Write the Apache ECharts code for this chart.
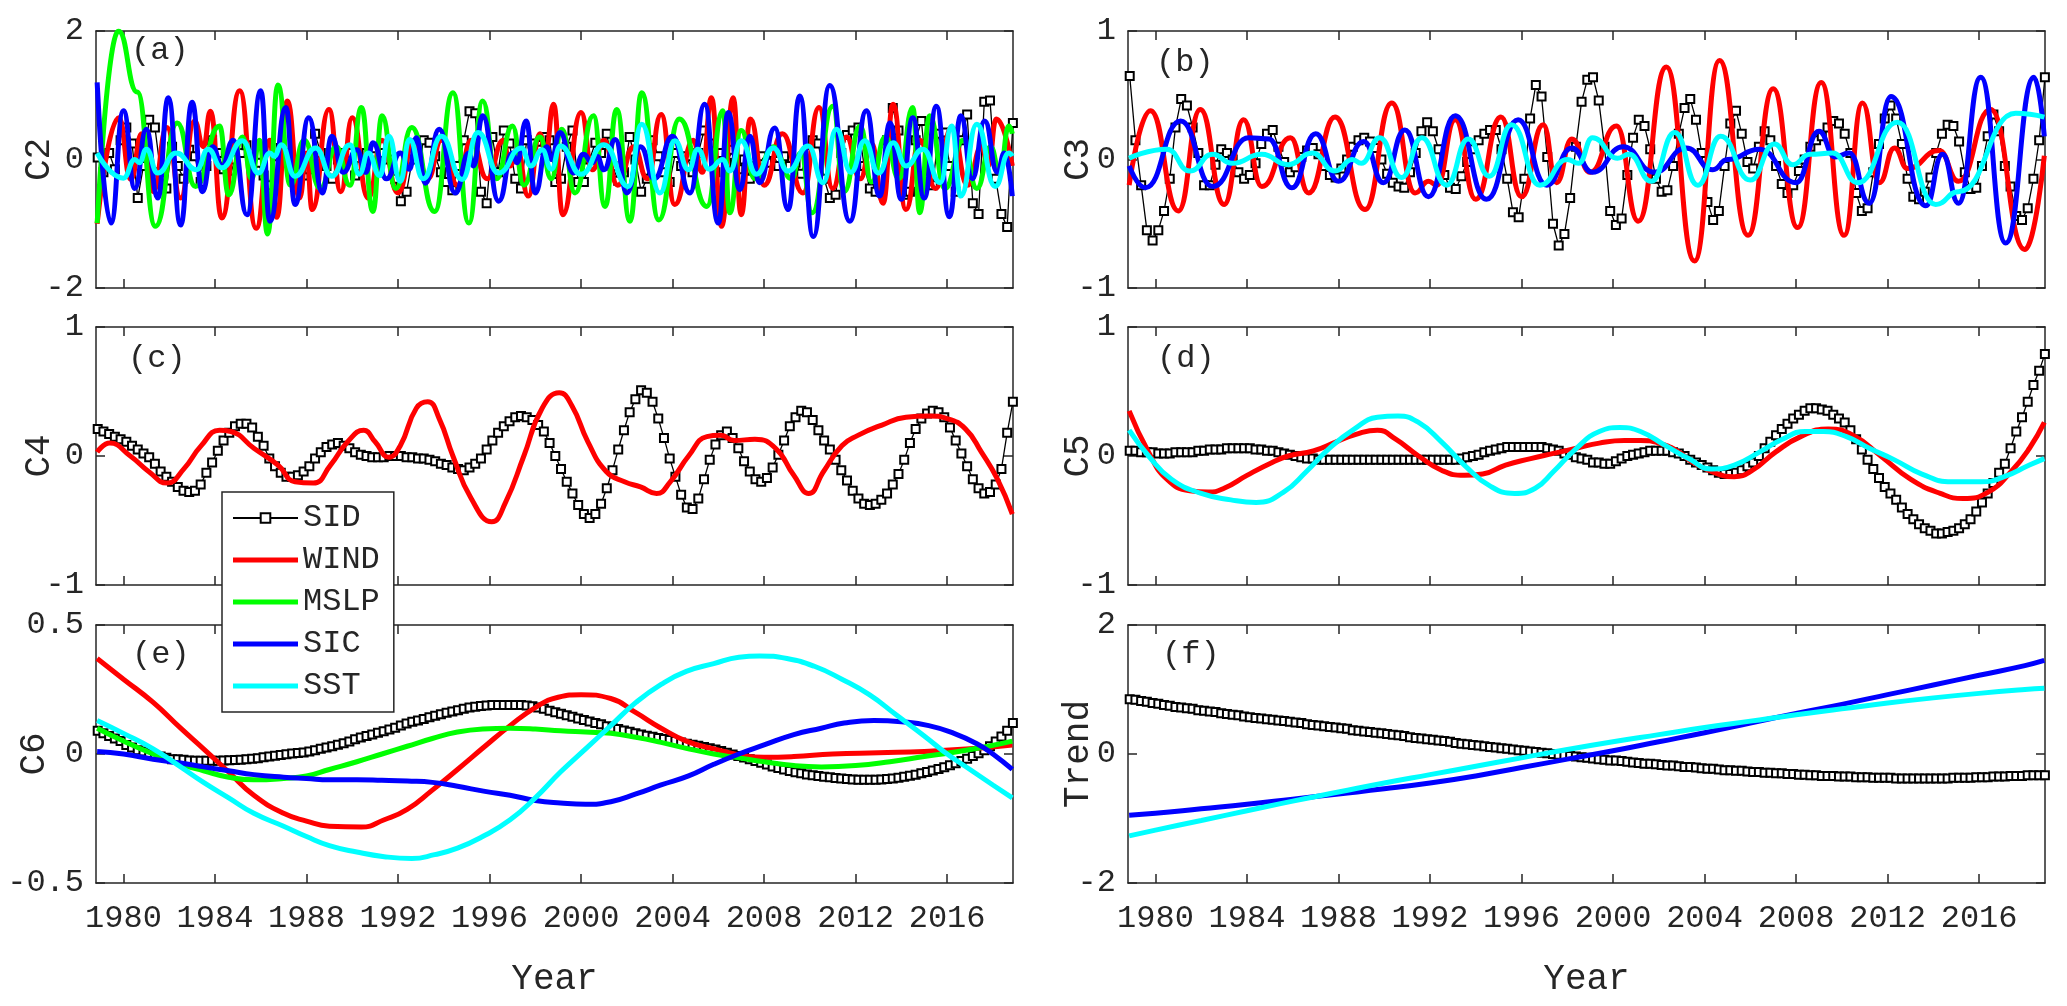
<!DOCTYPE html>
<html><head><meta charset="utf-8">
<script src="https://cdn.jsdelivr.net/npm/echarts@6/dist/echarts.min.js"></script>
<style>html,body{margin:0;padding:0;background:#fff}#c{width:2067px;height:1006px}</style>
</head><body><div id="c"></div>
<script>
// ---------- axis / layout data ----------
const YEAR_TICKS = [1980,1984,1988,1992,1996,2000,2004,2008,2012,2016];
const SID_START = 1978.875, SID_STEP = 0.25;   // SID sampling (quarterly markers)
const PANEL_LABELS = ['(a)','(b)','(c)','(d)','(e)','(f)'];
const Y_NAMES = ['C2','C3','C4','C5','C6','Trend'];
const Y_RANGES = [[-2,2,2],[-1,1,1],[-1,1,1],[-1,1,1],[-0.5,0.5,0.5],[-2,2,2]];
const LEGEND_NAMES = ['SID','WIND','MSLP','SIC','SST'];

// ---------- (a) C2 ----------
const SID_C2 = [
 0.03,-0.2,0.1,-0.15, 0.3,0.5,0.25,-0.6, -0.1,0.62,0.5,-0.2, -0.45,0.2,-0.1,-0.3,
 0.15,0.05,-0.35,-0.1, 0.3,0.1,-0.15,-0.3, 0.0,0.1,0.22,-0.15, -0.05,-0.25,-0.4,0.05,
 0.18,0.1,-0.05,-0.2, -0.25,-0.15,0.4,0.1, -0.1,-0.3,0.0,0.1, 0.1,-0.25,-0.1,0.1,
 0.05,-0.2,0.1,0.0, -0.3,-0.65,-0.5,0.0, 0.2,0.3,0.26,0.05, -0.2,-0.35,-0.48,-0.1,
 0.3,0.75,0.72,-0.5, -0.68,0.35,-0.2,0.45, 0.25,-0.3,-0.45,0.3, 0.25,0.15,0.35,0.3,
 -0.35,-0.3,0.2,0.45, -0.35,-0.35,0.0,0.26, 0.1,0.4,-0.1,-0.33, -0.2,0.35,0.0,-0.5,
 -0.3,0.3,0.05,-0.2, -0.35,0.1,-0.1,0.05, -0.2,0.1,0.45,0.25, -0.2,0.1,-0.05,0.15,
 -0.15,0.0,-0.3,-0.1, 0.05,-0.05,0.1,-0.1, 0.05,-0.1,-0.05,-0.22, 0.1,0.3,0.25,-0.3,
 -0.6,-0.55,0.1,0.38, 0.45,0.5,-0.1,-0.45, -0.5,-0.5,0.3,0.8, 0.45,-0.55,-0.5,0.3,
 0.6,-0.3,-0.4,0.4, 0.42,-0.1,-0.5,0.3, 0.7,-0.68,-0.85,0.9, 0.92,-0.3,-0.85,-1.05,
 0.57];
const WIND_C2 = [[1978.85,-1.0],[1979.8,0.65],[1980.32,-0.31],[1980.8,0.4],[1981.3,-0.5],[1981.9,0.5],[1982.5,-0.6],[1983.1,0.6],[1983.5,0.2],[1983.8,0.75],[1984.3,-0.91],[1985.08,1.07],[1985.8,-1.07],[1986.4,0.3],[1986.7,-0.9],[1987.16,0.91],[1987.7,-0.6],[1988.0,0.1],[1988.25,-0.78],[1988.98,0.78],[1989.5,-0.5],[1990.0,0.65],[1990.7,-0.6],[1991.3,0.3],[1992.0,-0.52],[1992.7,0.3],[1993.3,-0.3],[1993.9,0.3],[1994.6,-0.4],[1995.2,0.3],[1995.9,-0.3],[1996.6,0.3],[1996.9,-0.1],[1997.2,0.15],[1997.7,-0.57],[1998.2,0.4],[1998.45,0.1],[1998.8,0.86],[1999.2,-0.86],[2000.0,0.73],[2000.5,-0.16],[2001.0,0.3],[2001.6,-0.4],[2002.3,0.2],[2002.9,-0.3],[2003.5,0.7],[2004.1,-0.7],[2004.9,0.3],[2005.3,-0.2],[2005.7,0.96],[2006.14,-1.04],[2006.65,0.96],[2007.0,-0.86],[2007.4,0.63],[2008.0,-0.4],[2008.8,0.4],[2009.7,-0.52],[2010.4,0.81],[2011.0,-0.45],[2011.6,0.35],[2012.2,-0.3],[2012.7,0.25],[2013.2,-0.68],[2013.64,0.86],[2014.2,-0.78],[2014.8,0.3],[2015.5,-0.45],[2016.2,0.5],[2016.9,-0.4],[2017.5,0.2],[2017.8,-0.1],[2018.15,0.63],[2018.85,-0.1]];
const MSLP_C2 = [[1978.85,-0.99],[1979.78,2.0],[1980.6,1.05],[1981.4,-1.04],[1982.35,0.57],[1983.15,-0.42],[1984.2,0.52],[1984.6,-0.55],[1985.2,0.35],[1985.6,-0.3],[1985.95,0.3],[1986.3,-1.16],[1986.75,1.16],[1987.3,-0.4],[1987.9,0.3],[1988.6,-0.45],[1989.3,0.2],[1989.9,-0.4],[1990.4,0.81],[1990.9,-0.81],[1991.3,0.68],[1991.9,-0.45],[1992.6,0.5],[1993.6,-0.81],[1994.4,1.04],[1995.1,-0.99],[1995.7,0.91],[1996.3,-0.3],[1997.0,0.52],[1997.5,-0.4],[1998.2,0.35],[1998.7,-0.3],[1999.16,0.47],[1999.74,-0.52],[2000.54,0.68],[2001.05,-0.73],[2001.56,0.78],[2002.14,-0.96],[2002.65,1.04],[2003.4,-0.94],[2004.3,0.63],[2005.5,-0.73],[2006.2,0.76],[2006.5,-0.83],[2007.0,0.45],[2007.6,-0.3],[2008.4,0.2],[2009.2,-0.3],[2009.6,0.1],[2010.1,-0.83],[2011.0,0.83],[2011.5,-0.5],[2012.2,0.52],[2012.7,-0.35],[2013.3,0.35],[2013.9,-0.3],[2014.5,0.81],[2014.8,-0.83],[2015.24,0.68],[2015.9,-0.45],[2016.7,0.3],[2017.3,-0.45],[2017.9,0.2],[2018.3,-0.2],[2018.7,0.52],[2018.85,0.4]];
const SIC_C2 = [[1978.85,1.2],[1979.45,-0.99],[1980.0,0.76],[1980.5,-0.45],[1981.0,0.47],[1981.5,-0.6],[1981.96,0.96],[1982.5,-1.02],[1983.0,0.89],[1983.45,-0.5],[1983.9,0.2],[1984.3,-0.1],[1984.8,0.3],[1985.4,-0.86],[1986.0,1.07],[1986.4,-0.96],[1987.1,0.81],[1987.5,-0.7],[1988.1,0.65],[1988.7,-0.52],[1989.1,0.36],[1989.6,-0.2],[1990.2,0.15],[1990.6,-0.2],[1990.9,0.26],[1991.5,-0.3],[1992.1,0.1],[1992.5,-0.15],[1992.8,0.34],[1993.2,-0.37],[1993.8,0.47],[1994.5,-0.52],[1995.1,0.1],[1995.3,-0.1],[1995.7,0.68],[1996.4,-0.65],[1997.0,0.1],[1997.2,-0.05],[1997.6,0.6],[1998.0,-0.52],[1998.5,0.2],[1998.7,0.0],[1999.08,0.42],[1999.67,-0.21],[2000.1,0.08],[2000.5,-0.05],[2000.7,0.05],[2001.0,-0.16],[2001.5,0.31],[2002.0,-0.52],[2002.6,0.2],[2003.2,-0.3],[2004.0,0.36],[2004.76,-0.52],[2005.4,0.86],[2006.0,-0.99],[2006.43,0.73],[2006.94,-0.47],[2007.38,0.36],[2007.8,-0.36],[2008.47,0.49],[2009.05,-0.78],[2009.56,0.99],[2010.15,-1.2],[2010.87,1.15],[2011.75,-0.96],[2012.47,0.76],[2013.05,-0.57],[2013.5,0.57],[2014.0,-0.62],[2014.5,0.65],[2015.0,-0.6],[2015.53,0.83],[2016.1,-0.89],[2016.6,0.68],[2017.1,-0.3],[2017.64,0.6],[2018.2,-0.2],[2018.5,0.1],[2018.85,-0.57]];
const SST_C2 = [[1978.85,0.1],[1980.0,-0.29],[1980.5,0.0],[1980.7,-0.05],[1981.0,0.16],[1981.5,-0.21],[1982.3,0.1],[1983.2,-0.16],[1983.7,0.16],[1984.3,-0.13],[1985.2,0.29],[1985.9,-0.21],[1986.4,0.1],[1986.6,0.05],[1986.9,0.23],[1987.5,-0.26],[1988.4,0.18],[1989.1,-0.26],[1989.9,0.23],[1990.3,-0.23],[1990.7,0.1],[1991.2,-0.25],[1991.6,0.36],[1992.1,-0.34],[1992.5,0.31],[1993.1,-0.3],[1993.9,0.36],[1994.8,-0.31],[1995.5,0.42],[1996.4,-0.21],[1997.4,0.18],[1997.8,-0.1],[1998.3,0.15],[1998.7,-0.15],[1999.1,0.21],[2000.0,-0.23],[2001.0,0.23],[2002.07,-0.42],[2002.65,0.55],[2003.45,-0.52],[2004.1,0.29],[2004.7,-0.16],[2005.1,0.16],[2005.6,-0.15],[2006.2,0.0],[2006.5,-0.18],[2007.0,0.29],[2007.67,-0.23],[2008.4,0.18],[2009.05,-0.18],[2009.93,0.21],[2010.58,-0.36],[2011.16,0.47],[2011.8,-0.2],[2012.4,0.29],[2013.0,-0.21],[2013.64,0.26],[2014.2,-0.1],[2014.95,0.16],[2015.7,-0.36],[2016.2,0.52],[2016.6,-0.57],[2017.3,0.55],[2018.1,-0.42],[2018.7,0.1],[2018.85,0.05]];

// ---------- (b) C3 ----------
const SID_C3 = [
 0.65,0.15,-0.2,-0.55, -0.63,-0.55,-0.4,-0.15, 0.25,0.47,0.42,0.25, 0.05,-0.2,-0.2,-0.04,
 0.08,0.05,0.0,-0.1, -0.15,-0.12,-0.03,0.12, 0.2,0.23,0.1,-0.02, -0.1,-0.06,0.02,0.07,
 0.09,0.04,-0.05,-0.12, -0.14,-0.07,0.0,0.1, 0.15,0.17,0.14,0.09, 0.0,-0.11,-0.18,-0.21,
 -0.22,-0.1,0.05,0.22, 0.29,0.22,0.08,-0.12, -0.22,-0.23,-0.13,-0.02, 0.08,0.15,0.2,0.23,
 0.23,0.08,-0.15,-0.41, -0.45,-0.15,0.32,0.58, 0.49,0.02,-0.5,-0.67, -0.58,-0.3,0.1,0.45,
 0.62,0.64,0.46,0.1, -0.4,-0.51,-0.46,-0.12, 0.17,0.31,0.26,0.08, -0.15,-0.25,-0.24,-0.05,
 0.2,0.4,0.47,0.31, 0.05,-0.33,-0.47,-0.4, -0.05,0.28,0.38,0.2, -0.02,-0.07,0.1,0.22,
 0.15,-0.05,-0.19,-0.26, -0.2,-0.09,0.0,0.1, 0.15,0.18,0.25,0.3, 0.28,0.2,0.05,-0.26,
 -0.4,-0.38,-0.1,0.12, 0.32,0.42,0.32,0.12, -0.15,-0.29,-0.31,-0.25, -0.14,0.05,0.2,0.27,
 0.26,0.14,-0.1,-0.23, -0.22,-0.05,0.18,0.35, 0.22,-0.05,-0.21,-0.44, -0.47,-0.38,-0.15,0.15,
 0.64];
const WIND_C3 = [[1978.85,-0.2],[1979.78,0.38],[1981.0,-0.4],[1981.96,0.39],[1983.0,-0.35],[1983.85,0.31],[1984.65,-0.21],[1985.9,0.17],[1986.7,-0.26],[1987.85,0.33],[1989.16,-0.39],[1990.33,0.44],[1991.35,-0.26],[1991.93,-0.17],[1992.3,-0.2],[1993.1,0.31],[1994.0,-0.31],[1995.1,0.33],[1996.0,-0.29],[1996.95,0.27],[1997.53,-0.18],[1998.2,0.16],[1999.0,-0.1],[2000.15,0.26],[2001.1,-0.48],[2002.33,0.72],[2003.56,-0.79],[2004.65,0.77],[2005.9,-0.59],[2007.0,0.55],[2008.07,-0.53],[2009.1,0.6],[2010.1,-0.59],[2010.9,0.44],[2011.64,-0.18],[2012.3,0.09],[2012.87,-0.07],[2014.25,0.07],[2015.1,-0.17],[2016.5,0.39],[2018.0,-0.7],[2018.85,0.03]];
const SIC_C3 = [[1978.85,-0.05],[1979.56,-0.22],[1981.1,0.3],[1982.5,-0.21],[1984.07,0.17],[1984.95,0.16],[1985.96,-0.22],[1987.0,0.2],[1988.0,-0.17],[1989.1,0.14],[1989.96,-0.18],[1990.9,0.23],[1991.93,-0.29],[1993.1,0.34],[1994.47,-0.31],[1995.85,0.31],[1997.1,-0.2],[1998.2,0.09],[1999.1,-0.1],[2000.44,0.1],[2001.8,-0.1],[2003.2,0.09],[2004.36,-0.08],[2005.0,0.0],[2006.4,0.08],[2008.0,-0.18],[2009.0,0.22],[2009.7,0.02],[2010.33,0.05],[2011.2,-0.34],[2012.15,0.49],[2013.67,-0.36],[2014.4,0.04],[2015.1,-0.34],[2016.07,0.64],[2017.16,-0.65],[2018.4,0.64],[2018.85,0.18]];
const SST_C3 = [[1978.85,0.01],[1980.5,0.08],[1981.5,-0.09],[1982.5,0.04],[1983.35,-0.03],[1984.65,0.04],[1985.8,-0.04],[1986.85,0.05],[1987.85,-0.09],[1988.6,0.0],[1989.0,-0.03],[1989.8,0.17],[1990.76,-0.14],[1991.64,0.17],[1992.73,-0.2],[1993.67,0.16],[1994.6,-0.13],[1995.56,0.27],[1996.8,-0.2],[1998.0,0.0],[1998.5,-0.03],[1999.1,0.17],[2000.2,0.01],[2000.7,0.04],[2001.67,-0.17],[2002.7,0.21],[2003.7,-0.2],[2004.7,0.18],[2006.0,-0.16],[2007.05,0.12],[2007.85,-0.04],[2008.6,0.04],[2009.6,0.05],[2010.7,-0.18],[2012.43,0.29],[2014.1,-0.35],[2015.1,-0.25],[2017.6,0.36],[2018.85,0.33]];

// ---------- (c) C4 ----------
const SID_C4 = [
 0.21,0.19,0.17,0.15, 0.13,0.11,0.08,0.05, 0.02,-0.01,-0.06,-0.12, -0.16,-0.2,-0.24,-0.27,
 -0.28,-0.27,-0.22,-0.13, -0.05,0.04,0.12,0.18, 0.23,0.25,0.25,0.22, 0.15,0.08,-0.02,-0.08,
 -0.13,-0.16,-0.16,-0.15, -0.12,-0.08,-0.02,0.03, 0.07,0.09,0.1,0.08, 0.06,0.03,0.01,0.0,
 -0.01,-0.01,-0.01,0.0, 0.0,0.0,-0.01,-0.01, -0.02,-0.02,-0.03,-0.04, -0.06,-0.07,-0.09,-0.1,
 -0.11,-0.09,-0.06,-0.02, 0.05,0.12,0.18,0.23, 0.27,0.3,0.31,0.3, 0.28,0.24,0.19,0.1,
 0.0,-0.1,-0.2,-0.29, -0.38,-0.45,-0.48,-0.45, -0.37,-0.25,-0.11,0.05, 0.2,0.34,0.44,0.51,
 0.49,0.42,0.29,0.14, -0.02,-0.16,-0.3,-0.4, -0.41,-0.33,-0.18,-0.03, 0.09,0.16,0.19,0.14,
 0.06,-0.04,-0.12,-0.18, -0.2,-0.17,-0.09,0.01, 0.12,0.23,0.3,0.35, 0.34,0.28,0.2,0.12,
 0.05,-0.03,-0.11,-0.19, -0.27,-0.33,-0.37,-0.38, -0.37,-0.34,-0.29,-0.22, -0.14,-0.03,0.1,0.21,
 0.29,0.33,0.35,0.34, 0.3,0.22,0.12,0.02, -0.08,-0.18,-0.25,-0.29, -0.28,-0.22,-0.1,0.18,
 0.42];
const WIND_C4 = [[1978.85,0.03],[1979.4,0.1],[1980.3,0.0],[1981.1,-0.12],[1981.9,-0.21],[1982.64,-0.1],[1983.4,0.08],[1984.2,0.2],[1984.7,0.19],[1985.7,0.06],[1986.75,-0.07],[1987.5,-0.2],[1988.3,-0.21],[1989.05,-0.07],[1989.8,0.11],[1990.5,0.2],[1991.0,0.11],[1991.6,-0.01],[1992.1,0.08],[1992.8,0.37],[1993.3,0.42],[1993.8,0.29],[1994.4,0.0],[1995.2,-0.33],[1996.1,-0.51],[1996.7,-0.36],[1997.5,0.0],[1998.3,0.37],[1999.05,0.49],[1999.6,0.39],[2000.3,0.11],[2001.1,-0.12],[2001.9,-0.2],[2002.6,-0.24],[2003.3,-0.29],[2003.9,-0.2],[2004.7,0.0],[2005.5,0.15],[2006.1,0.16],[2006.7,0.12],[2007.6,0.13],[2008.5,0.06],[2009.3,-0.15],[2009.95,-0.29],[2010.6,-0.12],[2011.4,0.08],[2012.1,0.16],[2013.15,0.24],[2014.2,0.3],[2015.2,0.31],[2016.0,0.29],[2016.8,0.21],[2017.5,0.03],[2018.2,-0.18],[2018.85,-0.45]];

// ---------- (d) C5 ----------
const SID_C5 = [
 0.04,0.04,0.03,0.03, 0.03,0.02,0.02,0.02, 0.03,0.03,0.03,0.03, 0.04,0.04,0.05,0.05,
 0.05,0.06,0.06,0.06, 0.06,0.06,0.05,0.05, 0.04,0.04,0.03,0.02, 0.01,0.0,-0.01,-0.02,
 -0.02,-0.03,-0.03,-0.03, -0.03,-0.03,-0.03,-0.03, -0.03,-0.03,-0.03,-0.03, -0.03,-0.03,-0.03,-0.03,
 -0.03,-0.03,-0.03,-0.03, -0.03,-0.03,-0.03,-0.03, -0.03,-0.03,-0.02,-0.01, 0.0,0.01,0.03,0.04,
 0.05,0.06,0.07,0.07, 0.07,0.07,0.07,0.07, 0.07,0.06,0.05,0.04, 0.02,0.01,-0.01,-0.02,
 -0.03,-0.05,-0.05,-0.06, -0.06,-0.04,-0.02,0.0, 0.01,0.02,0.03,0.04, 0.04,0.04,0.04,0.03,
 0.02,0.0,-0.03,-0.05, -0.07,-0.09,-0.11,-0.13, -0.14,-0.14,-0.13,-0.11, -0.08,-0.05,0.0,0.06,
 0.11,0.16,0.21,0.25, 0.29,0.32,0.35,0.37, 0.37,0.36,0.35,0.32, 0.29,0.26,0.2,0.13,
 0.05,-0.03,-0.1,-0.17, -0.24,-0.29,-0.34,-0.4, -0.45,-0.49,-0.53,-0.56, -0.58,-0.6,-0.6,-0.59,
 -0.58,-0.56,-0.53,-0.49, -0.43,-0.36,-0.29,-0.21, -0.13,-0.06,0.06,0.19, 0.3,0.42,0.55,0.66,
 0.79];
const WIND_C5 = [[1978.85,0.35],[1979.7,0.03],[1980.5,-0.18],[1981.5,-0.27],[1982.3,-0.28],[1983.0,-0.25],[1984.0,-0.15],[1985.1,-0.05],[1985.8,0.0],[1986.9,0.04],[1987.9,0.11],[1988.8,0.17],[1989.7,0.2],[1990.5,0.13],[1991.5,0.0],[1992.5,-0.11],[1993.5,-0.15],[1994.3,-0.14],[1995.3,-0.07],[1996.4,-0.02],[1997.4,0.02],[1998.4,0.06],[1999.4,0.1],[2000.5,0.12],[2001.2,0.12],[2002.0,0.1],[2002.8,0.04],[2003.5,-0.05],[2004.6,-0.14],[2005.3,-0.16],[2006.1,-0.11],[2007.1,0.03],[2008.2,0.15],[2009.4,0.21],[2010.5,0.16],[2011.7,0.0],[2013.0,-0.18],[2014.3,-0.29],[2015.3,-0.33],[2016.4,-0.28],[2017.4,-0.12],[2018.2,0.06],[2018.85,0.26]];
const SST_C5 = [[1978.85,0.2],[1979.7,0.0],[1980.7,-0.18],[1982.0,-0.29],[1983.3,-0.34],[1984.4,-0.36],[1985.6,-0.28],[1986.6,-0.12],[1987.6,0.06],[1988.7,0.21],[1989.7,0.3],[1990.6,0.31],[1991.5,0.26],[1992.5,0.11],[1993.5,-0.07],[1994.6,-0.23],[1995.7,-0.29],[1996.6,-0.25],[1997.4,-0.12],[1998.4,0.06],[1999.4,0.19],[2000.3,0.22],[2001.2,0.19],[2002.3,0.08],[2003.3,-0.02],[2004.3,-0.1],[2005.3,-0.07],[2006.4,0.03],[2007.4,0.13],[2008.4,0.19],[2009.2,0.19],[2010.2,0.15],[2011.2,0.06],[2012.3,-0.03],[2013.5,-0.14],[2014.8,-0.2],[2016.1,-0.2],[2017.1,-0.16],[2018.2,-0.07],[2018.85,-0.02]];

// ---------- (e) C6 ----------
const SID_C6 = [
 0.09,0.08,0.07,0.06, 0.05,0.035,0.025,0.015, 0.01,0.0,-0.005,-0.01, -0.015,-0.02,-0.02,-0.022,
 -0.025,-0.026,-0.026,-0.026, -0.026,-0.026,-0.025,-0.024, -0.023,-0.022,-0.02,-0.018, -0.016,-0.013,-0.01,-0.007,
 -0.004,-0.001,0.002,0.004, 0.006,0.01,0.015,0.02, 0.025,0.03,0.036,0.042, 0.048,0.057,0.064,0.07,
 0.076,0.082,0.088,0.095, 0.102,0.11,0.118,0.125, 0.13,0.136,0.142,0.148, 0.154,0.16,0.165,0.17,
 0.175,0.18,0.183,0.186, 0.188,0.19,0.19,0.19, 0.19,0.19,0.19,0.188, 0.185,0.18,0.175,0.168,
 0.162,0.156,0.15,0.144, 0.138,0.132,0.126,0.12, 0.115,0.108,0.102,0.097, 0.091,0.086,0.08,0.076,
 0.071,0.067,0.062,0.058, 0.054,0.05,0.045,0.04, 0.036,0.032,0.027,0.022, 0.017,0.012,0.005,-0.002,
 -0.008,-0.014,-0.02,-0.027, -0.034,-0.041,-0.048,-0.054, -0.06,-0.066,-0.071,-0.075, -0.079,-0.082,-0.085,-0.088,
 -0.09,-0.093,-0.095,-0.097, -0.099,-0.1,-0.1,-0.1, -0.1,-0.099,-0.097,-0.095, -0.092,-0.088,-0.084,-0.08,
 -0.075,-0.07,-0.064,-0.058, -0.051,-0.044,-0.036,-0.027, -0.018,-0.008,0.003,0.015, 0.03,0.048,0.068,0.09,
 0.12];
const WIND_C6 = [[1978.85,0.37],[1980.0,0.29],[1981.3,0.2],[1982.5,0.1],[1983.5,0.02],[1984.6,-0.07],[1985.7,-0.16],[1987.0,-0.23],[1988.0,-0.26],[1989.0,-0.28],[1990.4,-0.283],[1991.4,-0.255],[1992.4,-0.215],[1993.5,-0.14],[1994.6,-0.06],[1995.8,0.03],[1996.9,0.11],[1998.0,0.18],[1999.0,0.22],[2000.0,0.23],[2001.3,0.215],[2002.4,0.16],[2003.5,0.1],[2004.6,0.05],[2005.8,0.02],[2007.0,-0.005],[2008.0,-0.013],[2009.3,-0.01],[2011.0,0.0],[2013.0,0.005],[2015.0,0.01],[2017.0,0.02],[2018.85,0.035]];
const MSLP_C6 = [[1978.85,0.1],[1980.0,0.05],[1981.3,0.0],[1982.5,-0.04],[1983.5,-0.065],[1984.6,-0.09],[1985.7,-0.1],[1987.0,-0.095],[1988.0,-0.085],[1989.0,-0.06],[1990.2,-0.03],[1991.3,0.0],[1992.4,0.03],[1993.5,0.06],[1994.6,0.085],[1995.7,0.097],[1996.9,0.1],[1998.0,0.097],[1999.1,0.09],[2000.2,0.085],[2001.3,0.08],[2002.4,0.065],[2003.5,0.045],[2004.6,0.022],[2005.8,0.0],[2006.9,-0.015],[2008.0,-0.03],[2009.3,-0.045],[2010.5,-0.05],[2012.0,-0.045],[2013.5,-0.03],[2015.0,-0.01],[2016.5,0.01],[2017.8,0.03],[2018.85,0.05]];
const SIC_C6 = [[1978.85,0.01],[1980.0,0.0],[1981.3,-0.02],[1982.5,-0.035],[1983.5,-0.05],[1984.6,-0.065],[1985.7,-0.08],[1987.0,-0.09],[1988.0,-0.095],[1989.0,-0.1],[1990.2,-0.1],[1991.3,-0.102],[1992.4,-0.105],[1993.5,-0.11],[1994.6,-0.125],[1995.8,-0.145],[1996.9,-0.16],[1998.0,-0.18],[1999.1,-0.19],[2000.2,-0.195],[2001.3,-0.185],[2002.4,-0.155],[2003.5,-0.12],[2004.7,-0.085],[2005.8,-0.04],[2006.9,0.0],[2008.0,0.035],[2009.3,0.075],[2010.5,0.1],[2011.5,0.12],[2012.8,0.13],[2014.0,0.125],[2015.2,0.11],[2016.3,0.08],[2017.3,0.04],[2018.0,0.0],[2018.85,-0.06]];
const SST_C6 = [[1978.85,0.13],[1980.0,0.08],[1981.3,0.02],[1982.5,-0.05],[1983.5,-0.11],[1984.6,-0.17],[1985.7,-0.23],[1987.0,-0.28],[1988.0,-0.32],[1989.0,-0.355],[1990.2,-0.38],[1991.4,-0.398],[1992.6,-0.405],[1993.6,-0.39],[1994.6,-0.365],[1995.7,-0.32],[1996.9,-0.255],[1998.0,-0.17],[1999.1,-0.07],[2000.2,0.02],[2001.3,0.11],[2002.4,0.2],[2003.5,0.27],[2004.6,0.32],[2005.8,0.35],[2006.9,0.375],[2007.8,0.38],[2009.0,0.37],[2010.2,0.34],[2011.4,0.29],[2012.6,0.23],[2013.8,0.15],[2015.0,0.07],[2016.0,0.0],[2017.0,-0.06],[2018.0,-0.12],[2018.85,-0.17]];

// ---------- (f) Trend ----------
const SID_TR = [
 0.85,0.84,0.82,0.81, 0.79,0.78,0.76,0.75, 0.73,0.72,0.71,0.7, 0.68,0.67,0.66,0.65,
 0.63,0.62,0.61,0.6, 0.58,0.57,0.56,0.55, 0.54,0.53,0.52,0.51, 0.5,0.49,0.48,0.46,
 0.45,0.44,0.43,0.42, 0.41,0.4,0.39,0.37, 0.36,0.35,0.34,0.33, 0.32,0.31,0.3,0.29,
 0.28,0.26,0.25,0.24, 0.23,0.22,0.21,0.2, 0.19,0.17,0.16,0.15, 0.14,0.13,0.12,0.11,
 0.1,0.09,0.08,0.07, 0.06,0.05,0.04,0.03, 0.02,0.01,0.0,-0.01, -0.02,-0.03,-0.04,-0.05,
 -0.06,-0.07,-0.08,-0.09, -0.1,-0.1,-0.11,-0.12, -0.13,-0.14,-0.15,-0.15, -0.16,-0.17,-0.18,-0.18,
 -0.19,-0.2,-0.2,-0.21, -0.22,-0.23,-0.23,-0.24, -0.25,-0.25,-0.26,-0.26, -0.27,-0.28,-0.28,-0.29,
 -0.29,-0.3,-0.3,-0.31, -0.31,-0.32,-0.32,-0.33, -0.33,-0.34,-0.34,-0.34, -0.35,-0.35,-0.35,-0.36,
 -0.36,-0.36,-0.37,-0.37, -0.37,-0.37,-0.38,-0.38, -0.38,-0.38,-0.38,-0.38, -0.38,-0.38,-0.38,-0.38,
 -0.37,-0.37,-0.37,-0.37, -0.36,-0.36,-0.36,-0.35, -0.35,-0.35,-0.34,-0.34, -0.34,-0.33,-0.33,-0.33,
 -0.33];
const SIC_TR = [[1978.85,-0.95],[1980,-0.92],[1982,-0.85],[1984,-0.78],[1986,-0.7],[1988,-0.62],[1990,-0.54],[1992,-0.45],[1994,-0.34],[1996,-0.21],[1998,-0.08],[2000,0.05],[2002,0.19],[2004,0.33],[2006,0.48],[2008,0.63],[2010,0.77],[2012,0.92],[2014,1.07],[2016,1.22],[2018,1.37],[2018.85,1.45]];
const SST_TR = [[1978.85,-1.27],[1980,-1.18],[1982,-1.03],[1984,-0.88],[1986,-0.73],[1988,-0.59],[1990,-0.45],[1992,-0.32],[1994,-0.19],[1996,-0.06],[1998,0.07],[2000,0.19],[2002,0.3],[2004,0.41],[2006,0.51],[2008,0.61],[2010,0.7],[2012,0.79],[2014,0.87],[2016,0.94],[2018,1.0],[2018.85,1.02]];

// ---------- build chart ----------
const FONT = 'Liberation Mono';
const AX = '#262626';
const COLORS = {SID:'#000000', WIND:'#ff0000', MSLP:'#00ff00', SIC:'#0000ff', SST:'#00ffff'};
const GRIDS = [
  {left:96, top:31, width:917, height:257},
  {left:1128, top:31, width:917, height:257},
  {left:96, top:327, width:917, height:258},
  {left:1128, top:327, width:917, height:258},
  {left:96, top:625, width:917, height:258},
  {left:1128, top:625, width:917, height:258}
];
const LABEL_OFF = [[35,4],[28,16],[32,16],[29,16],[36,14],[34,14]];
const NAME_DX = [57, 50, 57, 50, 62, 50];   // y-name centre distance left of axis
const THICK_ICON = 'path://M0,0H65V5H0Z';

const sidPts = arr => arr.map((v,i)=>[SID_START + i*SID_STEP, v]);

const xAxes = [], yAxes = [];
GRIDS.forEach((g,i)=>{
  const showLab = i >= 4;
  xAxes.push({
    type:'value', gridIndex:i, min:1978.8, max:2018.88, position:'bottom',
    axisLine:{show:true, onZero:false, lineStyle:{color:AX, width:1.5}},
    axisTick:{show:true, inside:true, length:9, customValues:YEAR_TICKS, lineStyle:{color:AX, width:1.5}},
    axisLabel:{show:showLab, customValues:YEAR_TICKS, formatter:v=>String(v), fontFamily:FONT, fontSize:32, color:AX, margin:20},
    splitLine:{show:false},
    name: showLab ? 'Year' : '', nameLocation:'middle', nameGap:78,
    nameTextStyle:{fontFamily:FONT, fontSize:36, color:AX}
  });
  xAxes.push({
    type:'value', gridIndex:i, min:1978.8, max:2018.88, position:'top',
    axisLine:{show:true, onZero:false, lineStyle:{color:AX, width:1.5}},
    axisTick:{show:true, inside:true, length:9, customValues:YEAR_TICKS, lineStyle:{color:AX, width:1.5}},
    axisLabel:{show:false}, splitLine:{show:false}
  });
  const r = Y_RANGES[i];
  yAxes.push({
    type:'value', gridIndex:i, min:r[0], max:r[1], interval:r[2], position:'left',
    axisLine:{show:true, onZero:false, lineStyle:{color:AX, width:1.5}},
    axisTick:{show:true, inside:true, length:9, lineStyle:{color:AX, width:1.5}},
    axisLabel:{fontFamily:FONT, fontSize:32, color:AX, margin:12},
    splitLine:{show:false}
  });
  yAxes.push({
    type:'value', gridIndex:i, min:r[0], max:r[1], interval:r[2], position:'right',
    axisLine:{show:true, onZero:false, lineStyle:{color:AX, width:1.5}},
    axisTick:{show:true, inside:true, length:9, lineStyle:{color:AX, width:1.5}},
    axisLabel:{show:false}, splitLine:{show:false}
  });
});

const series = [];
function sid(i, arr){
  series.push({name:'SID', type:'line', xAxisIndex:2*i, yAxisIndex:2*i, data:sidPts(arr),
    symbol:'emptyRect', symbolSize:8, showSymbol:true,
    lineStyle:{color:'#000', width:1.3}, itemStyle:{color:'#000', borderWidth:1.8},
    emphasis:{disabled:true}, z:2});
}
function smooth(i, name, arr, mono){
  const s = {name:name, type:'line', xAxisIndex:2*i, yAxisIndex:2*i, data:arr,
    symbol:'none', smooth:0.5, lineStyle:{color:COLORS[name], width:5},
    itemStyle:{color:COLORS[name]}, emphasis:{disabled:true}, z:3};
  if (mono) s.smoothMonotone = 'x';
  series.push(s);
}
// (a)
sid(0, SID_C2); smooth(0,'WIND',WIND_C2,true); smooth(0,'MSLP',MSLP_C2,true); smooth(0,'SIC',SIC_C2,true); smooth(0,'SST',SST_C2,true);
// (b)
sid(1, SID_C3); smooth(1,'WIND',WIND_C3,true); smooth(1,'SIC',SIC_C3,true); smooth(1,'SST',SST_C3,true);
// (c)
sid(2, SID_C4); smooth(2,'WIND',WIND_C4,false);
// (d)
sid(3, SID_C5); smooth(3,'WIND',WIND_C5,false); smooth(3,'SST',SST_C5,false);
// (e)
sid(4, SID_C6); smooth(4,'WIND',WIND_C6,false); smooth(4,'MSLP',MSLP_C6,false); smooth(4,'SIC',SIC_C6,false); smooth(4,'SST',SST_C6,false);
// (f)
sid(5, SID_TR); smooth(5,'SIC',SIC_TR,false); smooth(5,'SST',SST_TR,false);

const graphics = [];
GRIDS.forEach((g,i)=>{
  graphics.push({
    type:'text', left:g.left + LABEL_OFF[i][0], top:g.top + LABEL_OFF[i][1], z:50,
    style:{text:PANEL_LABELS[i], font:'32px "Liberation Mono"', fill:AX}
  });
  graphics.push({
    type:'text', x:g.left - NAME_DX[i], y:g.top + g.height/2, rotation:Math.PI/2, z:50,
    style:{text:Y_NAMES[i], font:'36px "Liberation Mono"', fill:AX, align:'center', verticalAlign:'middle'}
  });
});

const chart = echarts.init(document.getElementById('c'), null, {renderer:'canvas'});
chart.setOption({
  animation:false,
  backgroundColor:'#fff',
  grid:GRIDS.map(g=>Object.assign({containLabel:false}, g)),
  xAxis:xAxes, yAxis:yAxes, series:series,
  legend:{
    data:LEGEND_NAMES.map(n => n === 'SID' ? {name:n} : {name:n, icon:THICK_ICON}),
    orient:'vertical', left:222, top:492,
    padding:[10,14,10,10], itemGap:10, itemWidth:65, itemHeight:12,
    backgroundColor:'#fff', borderColor:AX, borderWidth:1.5, borderRadius:0,
    textStyle:{fontFamily:FONT, fontSize:32, color:AX, lineHeight:32},
    selectedMode:false, z:20
  },
  graphic:graphics
});
</script>
</body></html>
